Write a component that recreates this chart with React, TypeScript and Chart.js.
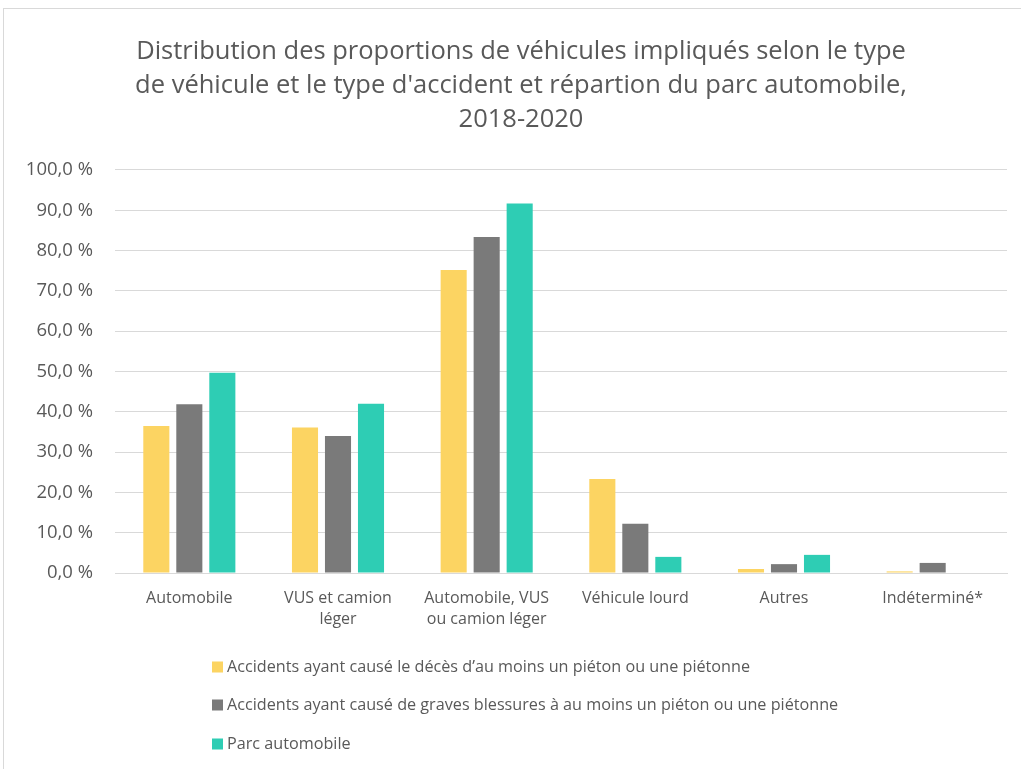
import React, { useEffect, useRef } from "react";
import { Chart, registerables } from "chart.js";

Chart.register(...registerables);

const categories: string[][] = [
  ["Automobile"],
  ["VUS et camion", "léger"],
  ["Automobile, VUS", "ou camion léger"],
  ["Véhicule lourd"],
  ["Autres"],
  ["Indéterminé*"],
];

const seriesLabels = [
  "Accidents ayant causé le décès d’au moins un piéton ou une piétonne",
  "Accidents ayant causé de graves blessures à au moins un piéton ou une piétonne",
  "Parc automobile",
];

const decesValues = [36.5, 36.1, 75.2, 23.3, 1.0, 0.4];
const blessuresValues = [41.9, 34.0, 83.4, 12.2, 2.2, 2.5];
const parcValues = [49.7, 42.0, 91.7, 4.0, 4.5, 0];

const seriesColors = ["#FCD462", "#7A7A7A", "#2ECDB4"];

const titleLines = [
  "Distribution des proportions de véhicules impliqués selon le type",
  "de véhicule et le type d'accident et répartion du parc automobile,",
  "2018-2020",
];

const yMin = 0;
const yMax = 100;
const yStep = 10;

const FONT = "'Open Sans', 'DejaVu Sans', sans-serif";
const TEXT = "#595959";
const GRID = "#D9D9D9";

const legendPlugin = {
  id: "stackedLegend",
  afterDraw(chart: any) {
    const ctx = chart.ctx;
    const ds = chart.data.datasets;
    const rowsY = [667, 705, 744];
    ctx.save();
    ctx.font = `16.2px ${FONT}`;
    ctx.textBaseline = "middle";
    ctx.textAlign = "left";
    ds.forEach((d: any, i: number) => {
      const y = rowsY[i];
      ctx.fillStyle = d.backgroundColor;
      ctx.fillRect(212, y - 5.5, 11, 11);
      ctx.fillStyle = TEXT;
      ctx.fillText(d.label, 227, y);
    });
    ctx.restore();
  },
};

export default function App() {
  const canvasRef = useRef<HTMLCanvasElement | null>(null);

  useEffect(() => {
    document.body.style.margin = "0";
    const canvas = canvasRef.current;
    if (!canvas) return;
    const values = [decesValues, blessuresValues, parcValues];
    const chart = new Chart(canvas, {
      type: "bar",
      data: {
        labels: categories,
        datasets: seriesLabels.map((label, i) => ({
          label,
          data: values[i],
          backgroundColor: seriesColors[i],
          borderWidth: 0,
          categoryPercentage: 0.666,
          barPercentage: 0.79,
          yAxisID: "y",
        })),
      },
      options: {
        responsive: false,
        animation: false,
        devicePixelRatio: 1,
        layout: { padding: { top: 0, left: 0, right: 0, bottom: 0 } },
        plugins: {
          legend: { display: false },
          tooltip: { enabled: false },
          title: {
            display: true,
            text: titleLines,
            color: TEXT,
            font: { family: FONT, size: 25.5, weight: "normal", lineHeight: 1.333 },
            padding: { top: 35, bottom: 33 },
          },
        },
        scales: {
          x: {
            grid: { display: false, drawTicks: false },
            border: { display: true, color: GRID, width: 1 },
            ticks: {
              color: TEXT,
              font: { family: FONT, size: 16, lineHeight: 1.3 },
              padding: 15,
              maxRotation: 0,
              autoSkip: false,
            },
            afterFit: (scale: any) => {
              scale.height = 196;
            },
          },
          y: {
            min: yMin,
            max: yMax,
            grid: { color: GRID, lineWidth: 1, drawTicks: false },
            border: { display: false },
            ticks: {
              stepSize: yStep,
              color: TEXT,
              font: { family: FONT, size: 18.5 },
              padding: 22,
              callback: (v: any) => Number(v).toFixed(1).replace(".", ",") + " %",
            },
            afterFit: (scale: any) => {
              scale.width = 115;
            },
          },
          yRight: {
            type: "linear",
            position: "right",
            min: yMin,
            max: yMax,
            grid: { display: false, drawTicks: false },
            border: { display: false },
            ticks: { display: false },
            afterFit: (scale: any) => {
              scale.width = 35;
            },
          },
        },
      },
      plugins: [legendPlugin],
    });
    return () => chart.destroy();
  }, []);

  return (
    <div style={{ position: "relative", width: 1021, height: 769, overflow: "hidden", background: "#fff" }}>
      <div
        style={{
          position: "absolute",
          left: 3,
          top: 8,
          width: 1100,
          height: 900,
          border: `1px solid ${GRID}`,
          boxSizing: "border-box",
        }}
      />
      <canvas
        ref={canvasRef}
        width={1042}
        height={769}
        style={{ position: "absolute", left: 0, top: 0, width: 1042, height: 769 }}
      />
    </div>
  );
}
